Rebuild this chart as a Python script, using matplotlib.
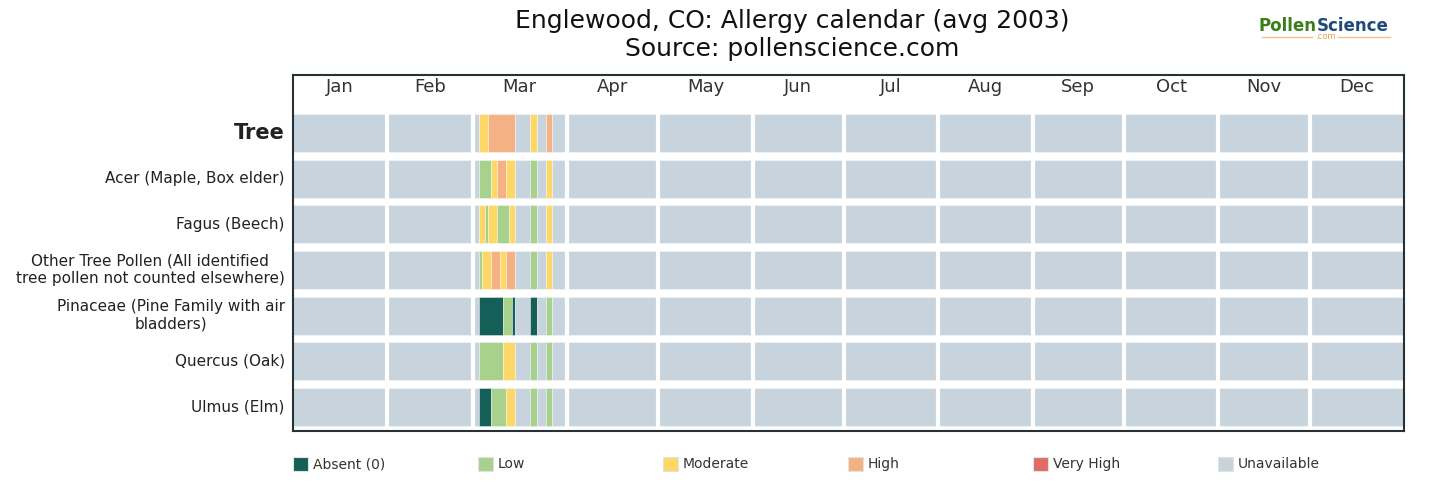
import numpy as np
import matplotlib.pyplot as plt
from matplotlib.patches import Rectangle
from matplotlib.lines import Line2D

# month axis
months = ["Jan", "Feb", "Mar", "Apr", "May", "Jun",
          "Jul", "Aug", "Sep", "Oct", "Nov", "Dec"]
month_days = [31, 28, 31, 30, 31, 30, 31, 31, 30, 31, 30, 31]

row_labels = ["Tree", "Acer (Maple, Box elder)", "Fagus (Beech)",
              "Other Tree Pollen (All identified\ntree pollen not counted elsewhere)",
              "Pinaceae (Pine Family with air\nbladders)", "Quercus (Oak)", "Ulmus (Elm)"]

# daily levels for March 1..31, rest of the year is unavailable
# A=absent L=low M=moderate H=high V=very high U=unavailable
tree_mar     = "UUMMMHHHHHHHHHUUUUUMMUUUHHUUUUU"
acer_mar     = "UULLLLMMHHHMMMUUUUULLUUUMMUUUUU"
fagus_mar    = "UUMMLMMMLLLLMMUUUUULLUUUMMUUUUU"
other_mar    = "UULMMMHHHMMHHHUUUUULLUUUMMUUUUU"
pinaceae_mar = "UUAAAAAAAALLLAUUUUUAAUUULLUUUUU"
quercus_mar  = "UULLLLLLLLMMMMUUUUULLUUULLUUUUU"
ulmus_mar    = "UUAAAALLLLLMMMUUUUULLUUULLUUUUU"

legend_labels = ["Absent (0)", "Low", "Moderate", "High", "Very High", "Unavailable"]
legend_codes = ["A", "L", "M", "H", "V", "U"]

colors = {"A": "#145f57", "L": "#a9d18e", "M": "#fdd866",
          "H": "#f4b183", "V": "#e06c68", "U": "#c8d4dd"}

rows = [tree_mar, acer_mar, fagus_mar, other_mar, pinaceae_mar, quercus_mar, ulmus_mar]

fig = plt.figure(figsize=(14.32, 5.03), dpi=100)
ax = fig.add_axes([293 / 1432, 1 - 431 / 503, 1111 / 1432, 356 / 503])

bounds = np.concatenate([[0], np.cumsum(month_days)])
mar_start = bounds[2]

for i, mar in enumerate(rows):
    year = "U" * mar_start + mar + "U" * (365 - mar_start - len(mar))
    # group consecutive days with the same level
    start = 0
    for d in range(1, 366):
        if d == 365 or year[d] != year[start]:
            ax.barh(i, d - start, left=start, height=0.83,
                    color=colors[year[start]],
                    edgecolor=(1, 1, 1, 0.45), linewidth=0.6)
            start = d

# white separators between months
ax.vlines(bounds[1:-1], -0.45, 6.45, color="white", linewidth=3, zorder=3)

for m, name in enumerate(months):
    ax.text((bounds[m] + bounds[m + 1]) / 2, -1.0, name, ha="center", va="center",
            fontsize=13, color="#333333")

ax.set_xlim(0, 365)
ax.set_ylim(6.525, -1.27)
ax.set_xticks([])
ax.set_yticks(range(len(row_labels)))
ax.set_yticklabels(row_labels, fontsize=11, color="#222222",
                   multialignment="center", va="center")
ax.get_yticklabels()[0].set_fontsize(15)
ax.get_yticklabels()[0].set_fontweight("bold")
ax.tick_params(axis="y", length=0, pad=6)
for s in ax.spines.values():
    s.set_color("#263238")
    s.set_linewidth(1.5)

fig.text(792 / 1432, 1 - 9 / 503, "Englewood, CO: Allergy calendar (avg 2003)\nSource: pollenscience.com",
         ha="center", va="top", fontsize=18, color="#111111")

# logo
lx = 1317 / 1432
fig.text(lx, 1 - 26 / 503, "Pollen", ha="right", va="center", fontsize=12,
         fontweight="bold", color="#3c7d1c")
fig.text(lx, 1 - 26 / 503, "Science", ha="left", va="center", fontsize=12,
         fontweight="bold", color="#1f4a7a")
fig.text(1325 / 1432, 1 - 37 / 503, ".com", ha="center", va="center", fontsize=6, color="#e3a24a")
fig.add_artist(Line2D([1262 / 1432, 1312 / 1432], [1 - 37 / 503] * 2, color="#f0c48a", lw=1))
fig.add_artist(Line2D([1338 / 1432, 1390 / 1432], [1 - 37 / 503] * 2, color="#f0c48a", lw=1))

# legend
for k, (lab, code) in enumerate(zip(legend_labels, legend_codes)):
    x0 = 293 + k * 185
    fig.add_artist(Rectangle((x0 / 1432, 1 - 471 / 503), 15 / 1432, 14 / 503,
                             facecolor=colors[code], edgecolor="#dde5dd", lw=0.8))
    fig.text((x0 + 20) / 1432, 1 - 464 / 503, lab, ha="left", va="center",
             fontsize=10, color="#333333")

fig.savefig("out.png", dpi=100)
